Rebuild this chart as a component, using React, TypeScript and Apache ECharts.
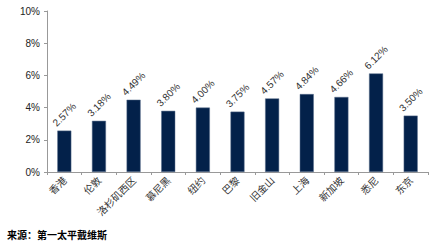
import React, { useEffect, useRef } from "react";
import * as echarts from "echarts";

const categories = ["香港", "伦敦", "洛杉矶西区", "慕尼黑", "纽约", "巴黎", "旧金山", "上海", "新加坡", "悉尼", "东京"];
const values = [2.57, 3.18, 4.49, 3.8, 4.0, 3.75, 4.57, 4.84, 4.66, 6.12, 3.5];
const sourceText = "来源：第一太平戴维斯";

export default function App() {
  const ref = useRef<HTMLDivElement>(null);
  useEffect(() => {
    const chart = echarts.init(ref.current!, null, { renderer: "svg" });
    chart.setOption({
      animation: false,
      grid: { left: 47, right: 15, top: 11, bottom: 74 },
      xAxis: {
        type: "category",
        data: categories,
        axisLine: { lineStyle: { color: "#999", width: 1 } },
        axisTick: { show: true, length: 3, lineStyle: { color: "#999" } },
        axisLabel: {
          rotate: 45,
          margin: 6,
          fontSize: 10,
          color: "#333",
          fontFamily: "Noto Sans CJK SC",
        },
      },
      yAxis: {
        type: "value",
        min: 0,
        max: 10,
        interval: 2,
        axisLine: { show: true, lineStyle: { color: "#999" } },
        axisTick: { show: true, length: 3, lineStyle: { color: "#999" } },
        splitLine: { show: false },
        axisLabel: {
          formatter: (v: number) => v + "%",
          fontSize: 10,
          color: "#222",
          margin: 7,
          fontFamily: "Liberation Sans",
        },
      },
      series: [
        {
          type: "bar",
          data: values,
          barWidth: 14,
          itemStyle: { color: "#03214a", borderColor: "#5a6f8c", borderWidth: 0.5 },
          label: {
            show: true,
            position: "top",
            rotate: 45,
            align: "center",
            verticalAlign: "middle",
            distance: 16,
            fontSize: 10,
            color: "#333",
            fontFamily: "Liberation Sans",
            formatter: (p: any) => p.value.toFixed(2) + "%",
          },
        },
      ],
      graphic: [
        {
          type: "text",
          left: 7,
          top: 229,
          style: {
            text: sourceText,
            fontSize: 10,
            fontWeight: "bold",
            fill: "#000",
            fontFamily: "Noto Sans CJK SC",
          },
        },
      ],
    });
    return () => chart.dispose();
  }, []);
  return (
    <div
      ref={ref}
      style={{ position: "fixed", left: 0, top: 0, width: 443, height: 246, background: "#fff" }}
    />
  );
}
